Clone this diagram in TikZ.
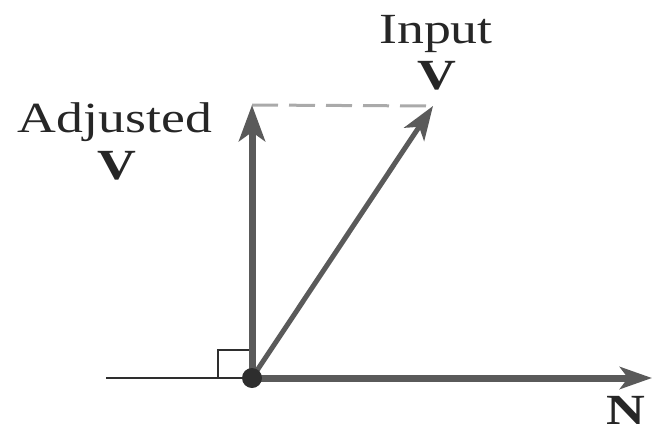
\documentclass[tikz,border=0pt]{standalone}
\usepackage{fontspec}
\setmainfont{Liberation Serif}[FakeStretch=1.25]
\usetikzlibrary{arrows.meta}
\definecolor{vecgray}{HTML}{5A5A5A}
\definecolor{dashgray}{HTML}{AAAAAA}
\definecolor{darkline}{HTML}{2E2E2E}
\begin{document}
\begin{tikzpicture}[x=1pt,y=-1pt,
  lbl/.style={anchor=base,inner sep=0pt,font=\fontsize{43}{43}\selectfont,text=black!85},
  bvec/.style={draw=vecgray,line width=7pt,-{Stealth[length=36pt,width=26pt,inset=9pt]}},
  dvec/.style={draw=vecgray,line width=5pt,-{Stealth[length=34pt,width=24pt,inset=9pt]}},
  nvec/.style={draw=vecgray,line width=7pt,-{Stealth[length=32pt,width=22pt,inset=8pt]}},
  thin/.style={draw=darkline,line width=2pt},
  dashline/.style={draw=dashgray,line width=3pt,dash pattern=on 26pt off 11pt}]
\useasboundingbox (0,0) rectangle (654,432);
\coordinate (L) at (106,378);
\coordinate (Vt) at (252,105);
\coordinate (It) at (433,106);
\coordinate (Nt) at (652,378);
\coordinate (Oc) at (252,378);
% right-angle mark
\draw[thin] (218,378) -- (218,350) -- (249,350);
\draw[thin] (L) -- (Oc);
\draw[dashline] (Vt) -- (It);
\draw[nvec] (Oc) -- (Nt);
\draw[bvec] (Oc) -- (Vt);
\draw[dvec] (Oc) -- (It);
\node[circle,fill=darkline,minimum size=20pt,inner sep=0pt] (O) at (Oc) {};
\node[lbl] (inp) at (436,43) {Input};
\node[lbl] (inpv) at (437,89) {\textbf{V}};
\node[lbl] (adj) at (115,132) {Adjusted};
\node[lbl] (adjv) at (117,179) {\textbf{V}};
\node[lbl] (nlab) at (626,424) {\textbf{N}};
\end{tikzpicture}
\end{document}
